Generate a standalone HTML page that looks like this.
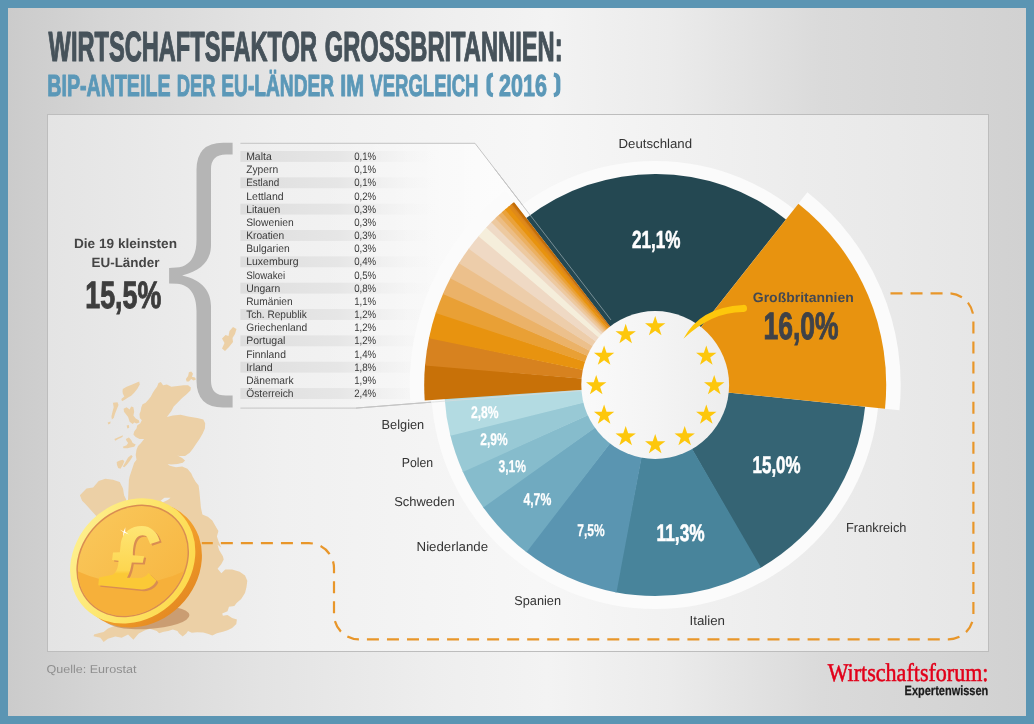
<!DOCTYPE html>
<html><head><meta charset="utf-8"><title>Wirtschaftsfaktor Grossbritannien</title>
<style>
html,body{margin:0;padding:0;background:#5b95b3;}
body{width:1034px;height:724px;overflow:hidden;font-family:"Liberation Sans",sans-serif;}
svg{display:block;will-change:transform} text{text-rendering:geometricPrecision}
</style></head><body>
<svg width="1034" height="724" viewBox="0 0 1034 724">
<defs>
<linearGradient id="bg" x1="0" y1="0" x2="1" y2="0">
<stop offset="0" stop-color="#cbcbcb"/><stop offset="0.1" stop-color="#d6d6d6"/><stop offset="0.25" stop-color="#e3e3e3"/><stop offset="0.42" stop-color="#eeeeee"/><stop offset="0.53" stop-color="#f3f3f3"/><stop offset="0.65" stop-color="#ebebeb"/><stop offset="0.8" stop-color="#dadada"/><stop offset="1" stop-color="#d1d1d1"/>
</linearGradient>
<linearGradient id="panel" x1="0" y1="0" x2="1" y2="0">
<stop offset="0" stop-color="#e4e4e4"/><stop offset="0.25" stop-color="#f0f0f0"/><stop offset="0.52" stop-color="#f7f7f7"/><stop offset="0.8" stop-color="#ececec"/><stop offset="1" stop-color="#e6e6e6"/>
</linearGradient>
<linearGradient id="band" x1="0" y1="0" x2="1" y2="0">
<stop offset="0" stop-color="#dedede"/><stop offset="0.5" stop-color="#e6e6e6"/><stop offset="1" stop-color="#f3f3f3" stop-opacity="0"/>
</linearGradient>
<linearGradient id="hub" x1="0" y1="0" x2="1" y2="0">
<stop offset="0" stop-color="#fafafa"/><stop offset="0.5" stop-color="#f4f4f4"/><stop offset="1" stop-color="#ededed"/>
</linearGradient>
</defs>
<rect width="1034" height="724" fill="#5b95b3"/>
<rect x="8" y="8" width="1018" height="708" fill="url(#bg)"/>
<rect x="47.5" y="114.5" width="941" height="537" fill="url(#panel)" stroke="#bdbdbd" stroke-width="1"/>

<text x="48.6" y="60.9" font-family="Liberation Sans" font-size="42" font-weight="bold" fill="#46525a" text-anchor="start" textLength="268.4" lengthAdjust="spacingAndGlyphs" stroke="#46525a" stroke-width="1.2" stroke-linejoin="round">WIRTSCHAFTSFAKTOR</text>
<text x="324.70000000000005" y="60.9" font-family="Liberation Sans" font-size="42" font-weight="bold" fill="#46525a" text-anchor="start" textLength="237.9" lengthAdjust="spacingAndGlyphs" stroke="#46525a" stroke-width="1.2" stroke-linejoin="round">GROSSBRITANNIEN:</text>
<text x="47.3" y="95.5" font-family="Liberation Sans" font-size="30.5" font-weight="bold" fill="#5b98b8" text-anchor="start" textLength="123.2" lengthAdjust="spacingAndGlyphs" stroke="#5b98b8" stroke-width="1.0" stroke-linejoin="round">BIP-ANTEILE</text>
<text x="176.7" y="95.5" font-family="Liberation Sans" font-size="30.5" font-weight="bold" fill="#5b98b8" text-anchor="start" textLength="38.9" lengthAdjust="spacingAndGlyphs" stroke="#5b98b8" stroke-width="1.0" stroke-linejoin="round">DER</text>
<text x="221.3" y="95.5" font-family="Liberation Sans" font-size="30.5" font-weight="bold" fill="#5b98b8" text-anchor="start" textLength="112.8" lengthAdjust="spacingAndGlyphs" stroke="#5b98b8" stroke-width="1.0" stroke-linejoin="round">EU-LÄNDER</text>
<text x="340.2" y="95.5" font-family="Liberation Sans" font-size="30.5" font-weight="bold" fill="#5b98b8" text-anchor="start" textLength="23.9" lengthAdjust="spacingAndGlyphs" stroke="#5b98b8" stroke-width="1.0" stroke-linejoin="round">IM</text>
<text x="370.3" y="95.5" font-family="Liberation Sans" font-size="30.5" font-weight="bold" fill="#5b98b8" text-anchor="start" textLength="108.2" lengthAdjust="spacingAndGlyphs" stroke="#5b98b8" stroke-width="1.0" stroke-linejoin="round">VERGLEICH</text>
<text x="499.1" y="95.5" font-family="Liberation Sans" font-size="30.5" font-weight="bold" fill="#5b98b8" text-anchor="start" textLength="47.9" lengthAdjust="spacingAndGlyphs" stroke="#5b98b8" stroke-width="1.0" stroke-linejoin="round">2016</text>
<path d="M493,74.6 C489.6,75 488.5,77 488.5,80 V89.8 C488.5,92.8 489.6,94.8 493,95.2" fill="none" stroke="#5b98b8" stroke-width="4.2"/>
<path d="M553.8,74.6 C557.2,75 558.3,77 558.3,80 V89.8 C558.3,92.8 557.2,94.8 553.8,95.2" fill="none" stroke="#5b98b8" stroke-width="4.2"/>
<polygon points="158.5,382.9 160.8,381.9 163.1,385.2 166.9,384.4 171.4,386.7 177.5,386.0 183.6,385.2 188.1,385.2 190.9,387.5 190.4,390.5 186.6,394.3 182.1,398.1 177.5,402.7 173.7,406.5 171.4,411.0 169.1,414.1 166.9,417.1 172.9,415.6 180.5,414.8 188.1,416.4 197.3,417.9 203.3,419.4 205.2,423.2 204.9,428.5 202.6,433.8 199.5,439.1 195.7,444.5 192.7,449.0 189.7,452.8 185.1,455.9 179.0,455.9 176.7,455.1 182.1,458.1 185.1,460.4 182.8,462.7 177.5,463.9 171.4,464.5 166.9,463.9 165.3,462.7 169.9,465.7 176.0,467.3 182.1,466.5 187.4,468.8 191.2,473.3 194.2,480.0 188.0,471.1 192.6,476.4 195.6,481.7 198.6,485.5 199.4,491.6 200.2,500.0 200.9,507.6 202.4,514.4 207.8,516.7 212.3,520.5 215.3,525.8 218.4,531.1 216.9,536.4 218.4,541.0 221.4,547.8 217.6,544.8 219.1,550.1 222.9,556.2 223.7,559.6 221.4,564.1 217.6,568.7 221.4,573.2 225.2,569.4 232.1,569.4 239.7,571.7 245.0,575.5 247.3,580.8 246.5,586.9 245.0,593.0 241.2,599.1 236.6,602.9 234.3,605.9 229.0,606.7 227.5,611.2 222.2,613.5 222.9,615.8 227.5,615.0 232.1,618.1 236.9,619.6 236.3,624.1 232.1,627.9 227.5,630.2 222.9,631.7 216.9,633.3 212.3,635.5 208.5,634.0 203.2,632.5 197.1,632.2 191.8,632.8 188.0,631.0 186.5,633.3 182.7,636.6 178.9,633.3 177.4,631.0 172.8,629.5 168.2,631.0 163.7,631.7 159.1,633.3 156.8,631.0 150.0,628.7 145.1,630.2 138.7,633.4 133.4,639.8 128.1,634.5 121.7,637.7 115.3,636.6 107.9,638.7 103.6,641.9 100.4,637.7 93.6,636.2 94.0,634.5 99.4,633.0 103.6,631.9 107.9,628.5 130,620 128,500 128.9,480.0 129.6,476.4 131.2,471.8 132.7,467.3 134.2,462.7 136.5,459.7 135.7,455.1 136.5,449.8 138.0,446.0 141.0,442.9 144.1,439.1 139.5,439.1 135.7,436.9 133.4,434.6 134.2,431.6 136.5,428.5 137.2,425.5 140.3,423.2 141.8,420.2 139.8,417.9 139.5,414.1 140.7,411.0 141.3,407.2 142.6,404.2 145.6,402.7 148.6,399.6 150.9,396.6 152.4,393.6 154.7,389.8 157.0,386.7" fill="#ecd0a6"/>
<polygon points="122.8,389.0 126.6,386.7 130.4,385.2 135.7,382.9 139.2,381.4 139.8,384.4 137.2,389.0 134.2,392.8 131.2,395.8 128.1,397.4 125.1,399.6 122.0,401.2 121.3,398.9 124.3,396.6 122.8,393.6 122.5,391.3" fill="#ecd0a6"/>
<polygon points="112.9,402.7 117.5,402.2 118.5,405.0 117.0,408.8 115.2,413.3 113.7,417.9 111.9,419.4 111.4,416.4 112.5,411.8 113.7,407.2" fill="#ecd0a6"/>
<polygon points="107.6,422.4 110.6,421.4 110.3,423.5 108.4,424.4" fill="#ecd0a6"/>
<polygon points="123.6,408.8 126.6,407.2 129.6,409.5 131.2,406.5 133.4,407.2 134.2,411.8 133.4,415.6 135.7,418.6 138.8,420.2 139.5,422.4 136.5,423.5 134.2,422.4 132.7,424.0 129.6,421.7 128.1,417.1 125.8,414.1 124.0,411.8" fill="#ecd0a6"/>
<polygon points="126.6,425.5 128.9,425.0 129.2,427.8 127.4,428.5" fill="#ecd0a6"/>
<polygon points="125.8,439.1 128.9,437.6 131.2,439.9 132.7,442.9 135.7,444.5 134.2,446.7 130.4,447.5 127.4,448.3 123.6,448.3 122.8,446.7 126.6,445.2 128.1,442.9 126.6,441.1" fill="#ecd0a6"/>
<polygon points="114.4,439.1 119.0,436.9 122.8,435.3 122.5,436.9 118.2,439.1 115.2,440.7" fill="#ecd0a6"/>
<polygon points="128.1,457.4 131.2,455.1 132.7,456.6 129.6,461.2 126.6,465.0 124.3,467.3 122.8,466.5 125.1,462.7" fill="#ecd0a6"/>
<polygon points="116.7,461.9 119.8,460.4 122.8,459.7 124.3,461.2 122.8,465.0 120.5,468.8 118.2,468.0 117.0,465.0" fill="#ecd0a6"/>
<polygon points="135.3,470.3 138.0,468.8 139.8,471.1 139.2,474.9 137.2,477.1 135.3,475.6" fill="#ecd0a6"/>
<polygon points="185.9,379.1 188.1,376.1 188.9,372.3 191.2,371.5 193.0,373.8 191.9,376.8 195.0,377.6 196.0,379.4 193.5,380.6 191.2,379.1 188.9,381.4 186.6,381.4" fill="#ecd0a6"/>
<polygon points="233,327 236.5,329 235,334 232.5,338 233,342 229,347 225,351 222,348.5 224.5,343 222,338.5 225.5,335 228.5,336 229.5,331" fill="#ecd0a6"/>
<polygon points="79.9,495.2 86.5,488.6 93.1,487.5 98.7,480.9 105.3,478.7 113,479.8 119.7,482 123,488.6 124.1,495.2 126.3,499.7 120,520 100,520 85.4,504.1 82.1,500.8" fill="#ecd0a6"/>
<polygon points="160.6,500.7 164.4,497.7 170.5,497.7 168.2,499.7 165.2,501.2 162.9,502.2" fill="#ebebeb"/>
<path d="M890.5,293.3 H948.4 A25,25 0 0 1 973.4,318.3 V614.4 A25,25 0 0 1 948.4,639.4 H359 A25,25 0 0 1 334,614.4 V568.2 A25,25 0 0 0 309,543.2 H201.8" fill="none" stroke="#e8962a" stroke-width="2.2" stroke-dasharray="12 8.03"/>
<path d="M232.6,142.7 H223 Q196.5,142.7 196.5,170 V240 C196.5,256 190,266.8 176,267.6 L169.1,267.9 V283.4 L177,283.8 C190,284.8 196.5,295 196.5,311 V380.5 Q196.5,407.5 223,407.5 H232.6 V395.6 H226 Q211,395.6 211,381 V306 C211,292 203,280 182.1,275.4 C203,270.6 211,259 211,245 V169 Q211,154.4 226,154.4 H232.6 Z" fill="#b5b5b5"/>
<text x="125.5" y="248.1" font-family="Liberation Sans" font-size="13.4" font-weight="bold" fill="#454545" text-anchor="middle" textLength="103" lengthAdjust="spacingAndGlyphs" >Die 19 kleinsten</text>
<text x="125.5" y="266.7" font-family="Liberation Sans" font-size="13.4" font-weight="bold" fill="#454545" text-anchor="middle" textLength="68" lengthAdjust="spacingAndGlyphs" >EU-Länder</text>
<text x="85.3" y="308.4" font-family="Liberation Sans" font-size="38" font-weight="bold" fill="#3d3d3d" text-anchor="start" textLength="76" lengthAdjust="spacingAndGlyphs" stroke="#3d3d3d" stroke-width="1">15,5%</text>
<defs><linearGradient id="tblhi" gradientUnits="userSpaceOnUse" x1="320" y1="0" x2="490" y2="0"><stop offset="0" stop-color="#ffffff" stop-opacity="0"/><stop offset="1" stop-color="#ffffff" stop-opacity="0.65"/></linearGradient></defs>
<path d="M240.4,143.3 H475 L611,320 L582,390.6 L356,408.1 H240.4 Z" fill="url(#tblhi)"/>
<rect x="240.4" y="151.00" width="195" height="10.9" fill="url(#band)"/>
<text x="246.2" y="160.00" font-family="Liberation Sans" font-size="10.8" font-weight="normal" fill="#3a3a3a" text-anchor="start" textLength="25.5" lengthAdjust="spacingAndGlyphs" >Malta</text>
<text x="354.2" y="160.00" font-family="Liberation Sans" font-size="10.8" font-weight="normal" fill="#3a3a3a" text-anchor="start" textLength="22" lengthAdjust="spacingAndGlyphs" >0,1%</text>
<text x="246.2" y="173.17" font-family="Liberation Sans" font-size="10.8" font-weight="normal" fill="#3a3a3a" text-anchor="start" textLength="32" lengthAdjust="spacingAndGlyphs" >Zypern</text>
<text x="354.2" y="173.17" font-family="Liberation Sans" font-size="10.8" font-weight="normal" fill="#3a3a3a" text-anchor="start" textLength="22" lengthAdjust="spacingAndGlyphs" >0,1%</text>
<rect x="240.4" y="177.34" width="195" height="10.9" fill="url(#band)"/>
<text x="246.2" y="186.34" font-family="Liberation Sans" font-size="10.8" font-weight="normal" fill="#3a3a3a" text-anchor="start" textLength="33" lengthAdjust="spacingAndGlyphs" >Estland</text>
<text x="354.2" y="186.34" font-family="Liberation Sans" font-size="10.8" font-weight="normal" fill="#3a3a3a" text-anchor="start" textLength="22" lengthAdjust="spacingAndGlyphs" >0,1%</text>
<text x="246.2" y="199.51" font-family="Liberation Sans" font-size="10.8" font-weight="normal" fill="#3a3a3a" text-anchor="start" textLength="37.5" lengthAdjust="spacingAndGlyphs" >Lettland</text>
<text x="354.2" y="199.51" font-family="Liberation Sans" font-size="10.8" font-weight="normal" fill="#3a3a3a" text-anchor="start" textLength="22" lengthAdjust="spacingAndGlyphs" >0,2%</text>
<rect x="240.4" y="203.68" width="195" height="10.9" fill="url(#band)"/>
<text x="246.2" y="212.68" font-family="Liberation Sans" font-size="10.8" font-weight="normal" fill="#3a3a3a" text-anchor="start" textLength="34" lengthAdjust="spacingAndGlyphs" >Litauen</text>
<text x="354.2" y="212.68" font-family="Liberation Sans" font-size="10.8" font-weight="normal" fill="#3a3a3a" text-anchor="start" textLength="22" lengthAdjust="spacingAndGlyphs" >0,3%</text>
<text x="246.2" y="225.85" font-family="Liberation Sans" font-size="10.8" font-weight="normal" fill="#3a3a3a" text-anchor="start" textLength="47.5" lengthAdjust="spacingAndGlyphs" >Slowenien</text>
<text x="354.2" y="225.85" font-family="Liberation Sans" font-size="10.8" font-weight="normal" fill="#3a3a3a" text-anchor="start" textLength="22" lengthAdjust="spacingAndGlyphs" >0,3%</text>
<rect x="240.4" y="230.02" width="195" height="10.9" fill="url(#band)"/>
<text x="246.2" y="239.02" font-family="Liberation Sans" font-size="10.8" font-weight="normal" fill="#3a3a3a" text-anchor="start" textLength="38" lengthAdjust="spacingAndGlyphs" >Kroatien</text>
<text x="354.2" y="239.02" font-family="Liberation Sans" font-size="10.8" font-weight="normal" fill="#3a3a3a" text-anchor="start" textLength="22" lengthAdjust="spacingAndGlyphs" >0,3%</text>
<text x="246.2" y="252.19" font-family="Liberation Sans" font-size="10.8" font-weight="normal" fill="#3a3a3a" text-anchor="start" textLength="43.5" lengthAdjust="spacingAndGlyphs" >Bulgarien</text>
<text x="354.2" y="252.19" font-family="Liberation Sans" font-size="10.8" font-weight="normal" fill="#3a3a3a" text-anchor="start" textLength="22" lengthAdjust="spacingAndGlyphs" >0,3%</text>
<rect x="240.4" y="256.36" width="195" height="10.9" fill="url(#band)"/>
<text x="246.2" y="265.36" font-family="Liberation Sans" font-size="10.8" font-weight="normal" fill="#3a3a3a" text-anchor="start" textLength="52.5" lengthAdjust="spacingAndGlyphs" >Luxemburg</text>
<text x="354.2" y="265.36" font-family="Liberation Sans" font-size="10.8" font-weight="normal" fill="#3a3a3a" text-anchor="start" textLength="22" lengthAdjust="spacingAndGlyphs" >0,4%</text>
<text x="246.2" y="278.53" font-family="Liberation Sans" font-size="10.8" font-weight="normal" fill="#3a3a3a" text-anchor="start" textLength="39" lengthAdjust="spacingAndGlyphs" >Slowakei</text>
<text x="354.2" y="278.53" font-family="Liberation Sans" font-size="10.8" font-weight="normal" fill="#3a3a3a" text-anchor="start" textLength="22" lengthAdjust="spacingAndGlyphs" >0,5%</text>
<rect x="240.4" y="282.70" width="195" height="10.9" fill="url(#band)"/>
<text x="246.2" y="291.70" font-family="Liberation Sans" font-size="10.8" font-weight="normal" fill="#3a3a3a" text-anchor="start" textLength="34" lengthAdjust="spacingAndGlyphs" >Ungarn</text>
<text x="354.2" y="291.70" font-family="Liberation Sans" font-size="10.8" font-weight="normal" fill="#3a3a3a" text-anchor="start" textLength="22" lengthAdjust="spacingAndGlyphs" >0,8%</text>
<text x="246.2" y="304.87" font-family="Liberation Sans" font-size="10.8" font-weight="normal" fill="#3a3a3a" text-anchor="start" textLength="46.5" lengthAdjust="spacingAndGlyphs" >Rumänien</text>
<text x="354.2" y="304.87" font-family="Liberation Sans" font-size="10.8" font-weight="normal" fill="#3a3a3a" text-anchor="start" textLength="22" lengthAdjust="spacingAndGlyphs" >1,1%</text>
<rect x="240.4" y="309.04" width="195" height="10.9" fill="url(#band)"/>
<text x="246.2" y="318.04" font-family="Liberation Sans" font-size="10.8" font-weight="normal" fill="#3a3a3a" text-anchor="start" textLength="60.5" lengthAdjust="spacingAndGlyphs" >Tch. Republik</text>
<text x="354.2" y="318.04" font-family="Liberation Sans" font-size="10.8" font-weight="normal" fill="#3a3a3a" text-anchor="start" textLength="22" lengthAdjust="spacingAndGlyphs" >1,2%</text>
<text x="246.2" y="331.21" font-family="Liberation Sans" font-size="10.8" font-weight="normal" fill="#3a3a3a" text-anchor="start" textLength="61" lengthAdjust="spacingAndGlyphs" >Griechenland</text>
<text x="354.2" y="331.21" font-family="Liberation Sans" font-size="10.8" font-weight="normal" fill="#3a3a3a" text-anchor="start" textLength="22" lengthAdjust="spacingAndGlyphs" >1,2%</text>
<rect x="240.4" y="335.38" width="195" height="10.9" fill="url(#band)"/>
<text x="246.2" y="344.38" font-family="Liberation Sans" font-size="10.8" font-weight="normal" fill="#3a3a3a" text-anchor="start" textLength="39.2" lengthAdjust="spacingAndGlyphs" >Portugal</text>
<text x="354.2" y="344.38" font-family="Liberation Sans" font-size="10.8" font-weight="normal" fill="#3a3a3a" text-anchor="start" textLength="22" lengthAdjust="spacingAndGlyphs" >1,2%</text>
<text x="246.2" y="357.55" font-family="Liberation Sans" font-size="10.8" font-weight="normal" fill="#3a3a3a" text-anchor="start" textLength="39.7" lengthAdjust="spacingAndGlyphs" >Finnland</text>
<text x="354.2" y="357.55" font-family="Liberation Sans" font-size="10.8" font-weight="normal" fill="#3a3a3a" text-anchor="start" textLength="22" lengthAdjust="spacingAndGlyphs" >1,4%</text>
<rect x="240.4" y="361.72" width="195" height="10.9" fill="url(#band)"/>
<text x="246.2" y="370.72" font-family="Liberation Sans" font-size="10.8" font-weight="normal" fill="#3a3a3a" text-anchor="start" textLength="26.4" lengthAdjust="spacingAndGlyphs" >Irland</text>
<text x="354.2" y="370.72" font-family="Liberation Sans" font-size="10.8" font-weight="normal" fill="#3a3a3a" text-anchor="start" textLength="22" lengthAdjust="spacingAndGlyphs" >1,8%</text>
<text x="246.2" y="383.89" font-family="Liberation Sans" font-size="10.8" font-weight="normal" fill="#3a3a3a" text-anchor="start" textLength="47.4" lengthAdjust="spacingAndGlyphs" >Dänemark</text>
<text x="354.2" y="383.89" font-family="Liberation Sans" font-size="10.8" font-weight="normal" fill="#3a3a3a" text-anchor="start" textLength="22" lengthAdjust="spacingAndGlyphs" >1,9%</text>
<rect x="240.4" y="388.06" width="195" height="10.9" fill="url(#band)"/>
<text x="246.2" y="397.06" font-family="Liberation Sans" font-size="10.8" font-weight="normal" fill="#3a3a3a" text-anchor="start" textLength="47.4" lengthAdjust="spacingAndGlyphs" >Österreich</text>
<text x="354.2" y="397.06" font-family="Liberation Sans" font-size="10.8" font-weight="normal" fill="#3a3a3a" text-anchor="start" textLength="22" lengthAdjust="spacingAndGlyphs" >2,4%</text>
<path d="M240.4,143.3 H475 L611,320" fill="none" stroke="#c4c4c4" stroke-width="1"/>
<path d="M240.4,408.1 H356 L431,402.2" fill="none" stroke="#c4c4c4" stroke-width="1"/>
<circle cx="655.2" cy="385.0" r="224" fill="#fbfbfb"/>
<path d="M655.20,385.00 L807.36,192.34 A245.5,245.5 0 0 1 899.40,410.24 Z" fill="#fbfbfb" />
<path d="M655.20,385.00 L410.25,401.36 A245.5,245.5 0 0 1 505.21,190.65 Z" fill="#fbfbfb" />
<path d="M655.20,385.00 L526.28,217.96 A211,211 0 0 1 785.97,219.41 Z" fill="#244852" />
<path d="M655.20,385.00 L865.08,406.69 A211,211 0 0 1 760.06,568.10 Z" fill="#356474" />
<path d="M655.20,385.00 L761.02,567.55 A211,211 0 0 1 615.37,592.21 Z" fill="#48849b" />
<path d="M655.20,385.00 L616.46,592.41 A211,211 0 0 1 525.64,551.54 Z" fill="#5a95b1" />
<path d="M655.20,385.00 L526.52,552.22 A211,211 0 0 1 482.78,506.63 Z" fill="#70aac0" />
<path d="M655.20,385.00 L483.42,507.53 A211,211 0 0 1 462.50,470.96 Z" fill="#86bccc" />
<path d="M655.20,385.00 L462.95,471.96 A211,211 0 0 1 450.12,434.61 Z" fill="#98c9d5" />
<path d="M655.20,385.00 L450.38,435.69 A211,211 0 0 1 444.60,397.95 Z" fill="#b3dbe2" />
<path d="M655.20,385.00 L798.37,203.72 A231,231 0 0 1 884.98,408.75 Z" fill="#e8930f" />
<path d="M655.20,385.00 L424.71,400.39 A231,231 0 0 1 425.10,364.59 Z" fill="#c87108" />
<path d="M655.20,385.00 L425.02,365.59 A231,231 0 0 1 429.17,337.33 Z" fill="#d7821f" />
<path d="M655.20,385.00 L428.97,338.31 A231,231 0 0 1 436.00,312.12 Z" fill="#e8930f" />
<path d="M655.20,385.00 L435.68,313.08 A231,231 0 0 1 443.25,293.15 Z" fill="#e9a035" />
<path d="M655.20,385.00 L442.85,294.07 A231,231 0 0 1 450.77,277.44 Z" fill="#ebb268" />
<path d="M655.20,385.00 L450.30,278.34 A231,231 0 0 1 459.45,262.35 Z" fill="#ecc08c" />
<path d="M655.20,385.00 L458.92,263.20 A231,231 0 0 1 469.25,247.95 Z" fill="#edcdaa" />
<path d="M655.20,385.00 L468.65,248.77 A231,231 0 0 1 479.15,235.44 Z" fill="#efd9c4" />
<path d="M655.20,385.00 L478.50,236.21 A231,231 0 0 1 486.89,226.78 Z" fill="#f5eedb" />
<path d="M655.20,385.00 L486.20,227.52 A231,231 0 0 1 491.94,221.57 Z" fill="#efdac6" />
<path d="M655.20,385.00 L491.23,222.29 A231,231 0 0 1 496.10,217.52 Z" fill="#edc9a0" />
<path d="M655.20,385.00 L495.37,218.22 A231,231 0 0 1 499.29,214.55 Z" fill="#ecbd85" />
<path d="M655.20,385.00 L498.55,215.23 A231,231 0 0 1 502.53,211.64 Z" fill="#ebb062" />
<path d="M655.20,385.00 L501.77,212.31 A231,231 0 0 1 505.82,208.80 Z" fill="#eaa23a" />
<path d="M655.20,385.00 L505.05,209.45 A231,231 0 0 1 509.17,206.01 Z" fill="#e8930f" />
<path d="M655.20,385.00 L508.39,206.65 A231,231 0 0 1 511.43,204.19 Z" fill="#e08a17" />
<path d="M655.20,385.00 L510.64,204.82 A231,231 0 0 1 512.57,203.29 Z" fill="#d7821f" />
<path d="M655.20,385.00 L511.78,203.92 A231,231 0 0 1 513.71,202.40 Z" fill="#c87108" />
<path d="M655.20,385.00 L512.92,203.02 A231,231 0 0 1 514.06,202.13 Z" fill="#c06a06" />
<path d="M495,169.3 L529.7,214.5" fill="none" stroke="#c4c4c4" stroke-width="1"/>
<path d="M529.7,214.5 L611,320" fill="none" stroke="#8da0a6" stroke-width="0.8"/>
<path d="M356,408.1 L431,402.2" fill="none" stroke="#c4c4c4" stroke-width="1"/>
<path d="M431,402.2 L582,390.6" fill="none" stroke="#d9dcdc" stroke-width="0.9" opacity="0.85"/>
<circle cx="655.2" cy="385.0" r="73.9" fill="url(#hub)"/>
<polygon points="655.20,315.90 657.64,323.24 665.38,323.29 659.15,327.88 661.49,335.26 655.20,330.75 648.91,335.26 651.25,327.88 645.02,323.29 652.76,323.24" fill="#fdc70c"/>
<polygon points="706.30,345.40 708.73,352.74 716.47,352.79 710.24,357.38 712.58,364.76 706.30,360.25 700.01,364.76 702.35,357.38 696.12,352.79 703.86,352.74" fill="#fdc70c"/>
<polygon points="714.20,374.90 716.64,382.24 724.38,382.29 718.15,386.88 720.49,394.26 714.20,389.75 707.91,394.26 710.25,386.88 704.02,382.29 711.76,382.24" fill="#fdc70c"/>
<polygon points="706.30,404.40 708.73,411.74 716.47,411.79 710.24,416.38 712.58,423.76 706.30,419.25 700.01,423.76 702.35,416.38 696.12,411.79 703.86,411.74" fill="#fdc70c"/>
<polygon points="684.70,426.00 687.14,433.34 694.88,433.39 688.65,437.98 690.99,445.35 684.70,440.85 678.41,445.35 680.75,437.98 674.52,433.39 682.26,433.34" fill="#fdc70c"/>
<polygon points="655.20,433.90 657.64,441.24 665.38,441.29 659.15,445.88 661.49,453.26 655.20,448.75 648.91,453.26 651.25,445.88 645.02,441.29 652.76,441.24" fill="#fdc70c"/>
<polygon points="625.70,426.00 628.14,433.34 635.88,433.39 629.65,437.98 631.99,445.35 625.70,440.85 619.41,445.35 621.75,437.98 615.52,433.39 623.26,433.34" fill="#fdc70c"/>
<polygon points="604.10,404.40 606.54,411.74 614.28,411.79 608.05,416.38 610.39,423.76 604.10,419.25 597.82,423.76 600.16,416.38 593.93,411.79 601.67,411.74" fill="#fdc70c"/>
<polygon points="596.20,374.90 598.64,382.24 606.38,382.29 600.15,386.88 602.49,394.26 596.20,389.75 589.91,394.26 592.25,386.88 586.02,382.29 593.76,382.24" fill="#fdc70c"/>
<polygon points="604.10,345.40 606.54,352.74 614.28,352.79 608.05,357.38 610.39,364.76 604.10,360.25 597.82,364.76 600.16,357.38 593.93,352.79 601.67,352.74" fill="#fdc70c"/>
<polygon points="625.70,323.80 628.14,331.15 635.88,331.20 629.65,335.79 631.99,343.16 625.70,338.65 619.41,343.16 621.75,335.79 615.52,331.20 623.26,331.15" fill="#fdc70c"/>
<path d="M683.4,338.8 Q699.5,307.3 743,304.9 A3.6,3.6 0 0 1 743.8,312.1 Q712.5,311.5 683.4,338.8 Z" fill="#fdc70c"/>
<text x="632" y="247.6" font-family="Liberation Sans" font-size="24.7" font-weight="bold" fill="#ffffff" text-anchor="start" textLength="48.5" lengthAdjust="spacingAndGlyphs" stroke="#ffffff" stroke-width="0.6">21,1%</text>
<text x="752.6" y="472.8" font-family="Liberation Sans" font-size="24" font-weight="bold" fill="#ffffff" text-anchor="start" textLength="48" lengthAdjust="spacingAndGlyphs" stroke="#ffffff" stroke-width="0.6">15,0%</text>
<text x="656.6" y="540.8" font-family="Liberation Sans" font-size="24" font-weight="bold" fill="#ffffff" text-anchor="start" textLength="48" lengthAdjust="spacingAndGlyphs" stroke="#ffffff" stroke-width="0.6">11,3%</text>
<text x="577.2" y="536.0" font-family="Liberation Sans" font-size="17" font-weight="bold" fill="#ffffff" text-anchor="start" textLength="27.4" lengthAdjust="spacingAndGlyphs" stroke="#ffffff" stroke-width="0.25">7,5%</text>
<text x="523.4000000000001" y="505.3" font-family="Liberation Sans" font-size="17" font-weight="bold" fill="#ffffff" text-anchor="start" textLength="27.9" lengthAdjust="spacingAndGlyphs" stroke="#ffffff" stroke-width="0.25">4,7%</text>
<text x="498.5" y="471.8" font-family="Liberation Sans" font-size="17" font-weight="bold" fill="#ffffff" text-anchor="start" textLength="27.599999999999998" lengthAdjust="spacingAndGlyphs" stroke="#ffffff" stroke-width="0.25">3,1%</text>
<text x="480.2" y="444.8" font-family="Liberation Sans" font-size="17" font-weight="bold" fill="#ffffff" text-anchor="start" textLength="27.4" lengthAdjust="spacingAndGlyphs" stroke="#ffffff" stroke-width="0.25">2,9%</text>
<text x="470.9" y="417.90000000000003" font-family="Liberation Sans" font-size="17" font-weight="bold" fill="#ffffff" text-anchor="start" textLength="27.7" lengthAdjust="spacingAndGlyphs" stroke="#ffffff" stroke-width="0.25">2,8%</text>
<text x="752.8" y="302.2" font-family="Liberation Sans" font-size="13.6" font-weight="bold" fill="#444850" text-anchor="start" textLength="101" lengthAdjust="spacingAndGlyphs" >Großbritannien</text>
<text x="763.6" y="339.4" font-family="Liberation Sans" font-size="38" font-weight="bold" fill="#3f4248" text-anchor="start" textLength="75" lengthAdjust="spacingAndGlyphs" stroke="#3f4248" stroke-width="1.0">16,0%</text>
<text x="618.5" y="147.5" font-family="Liberation Sans" font-size="13" font-weight="normal" fill="#333333" text-anchor="start" textLength="73.5" lengthAdjust="spacingAndGlyphs" >Deutschland</text>
<text x="846" y="532" font-family="Liberation Sans" font-size="13" font-weight="normal" fill="#333333" text-anchor="start" textLength="60.5" lengthAdjust="spacingAndGlyphs" >Frankreich</text>
<text x="689.5" y="624.5" font-family="Liberation Sans" font-size="13" font-weight="normal" fill="#333333" text-anchor="start" textLength="35.5" lengthAdjust="spacingAndGlyphs" >Italien</text>
<text x="514.3" y="604.5" font-family="Liberation Sans" font-size="13" font-weight="normal" fill="#333333" text-anchor="start" textLength="46.7" lengthAdjust="spacingAndGlyphs" >Spanien</text>
<text x="416.6" y="551.3" font-family="Liberation Sans" font-size="13" font-weight="normal" fill="#333333" text-anchor="start" textLength="71.5" lengthAdjust="spacingAndGlyphs" >Niederlande</text>
<text x="394.2" y="505.7" font-family="Liberation Sans" font-size="13" font-weight="normal" fill="#333333" text-anchor="start" textLength="60.4" lengthAdjust="spacingAndGlyphs" >Schweden</text>
<text x="401.7" y="466.8" font-family="Liberation Sans" font-size="13" font-weight="normal" fill="#333333" text-anchor="start" textLength="31.4" lengthAdjust="spacingAndGlyphs" >Polen</text>
<text x="381.6" y="428.6" font-family="Liberation Sans" font-size="13" font-weight="normal" fill="#333333" text-anchor="start" textLength="42.6" lengthAdjust="spacingAndGlyphs" >Belgien</text>
<text x="46.5" y="673" font-family="Liberation Sans" font-size="11.4" font-weight="normal" fill="#8f8f8f" text-anchor="start" textLength="90" lengthAdjust="spacingAndGlyphs" >Quelle: Eurostat</text>
<text x="988.5" y="681.3" font-family="Liberation Serif" font-size="25.6" font-weight="normal" fill="#e2001a" text-anchor="end" textLength="160.8" lengthAdjust="spacingAndGlyphs" stroke="#e2001a" stroke-width="0.55">Wirtschaftsforum:</text>
<text x="988.3" y="695.3" font-family="Liberation Sans" font-size="13.4" font-weight="bold" fill="#1a1a1a" text-anchor="end" textLength="83.7" lengthAdjust="spacingAndGlyphs" stroke="#1a1a1a" stroke-width="0.25">Expertenwissen</text>
<defs><linearGradient id="cside" x1="0" y1="0" x2="0" y2="1"><stop offset="0" stop-color="#f6ae35"/><stop offset="0.55" stop-color="#f2a02c"/><stop offset="1" stop-color="#e58a22"/></linearGradient><linearGradient id="crim" x1="0.2" y1="0" x2="0.7" y2="1"><stop offset="0" stop-color="#fef090"/><stop offset="0.5" stop-color="#fde56c"/><stop offset="1" stop-color="#fdd94c"/></linearGradient><linearGradient id="cface" x1="0" y1="0" x2="0" y2="1"><stop offset="0" stop-color="#f9c557"/><stop offset="1" stop-color="#f7b743"/></linearGradient><clipPath id="cclip"><ellipse cx="132.7" cy="560.9" rx="59.2" ry="50.1" transform="rotate(-45 132.7 560.9)"/></clipPath></defs>
<ellipse cx="147" cy="617.3" rx="42.5" ry="11.8" fill="#b47c50" opacity="0.6" transform="rotate(-3 147 617.3)"/>
<ellipse cx="139.29999999999998" cy="564.9" rx="67.2" ry="57.7" transform="rotate(-45 139.29999999999998 564.9)" fill="url(#cside)"/>
<ellipse cx="132.7" cy="560.9" rx="67.2" ry="57.7" transform="rotate(-45 132.7 560.9)" fill="url(#crim)"/>
<ellipse cx="132.7" cy="560.9" rx="60.7" ry="51.6" transform="rotate(-45 132.7 560.9)" fill="#d98d52"/>
<ellipse cx="132.7" cy="560.9" rx="59.2" ry="50.1" transform="rotate(-45 132.7 560.9)" fill="url(#cface)"/>
<path d="M60,562 Q133,606 205,560 V640 H60 Z" fill="#f6b03a" clip-path="url(#cclip)"/>
<path d="M159.61,540.99 C157.40,532.15 150.77,526.08 141.93,526.08 C130.88,526.08 123.15,532.15 120.94,542.10 L119.83,552.27 L112.98,552.60 L112.10,560.00 L118.51,560.66 C118.18,567.51 116.52,571.93 112.65,574.70 L99.06,577.46 L98.29,585.19 L141.93,589.61 C149.67,589.06 154.64,585.19 156.30,580.55 L148.56,573.04 C146.35,576.35 143.04,578.01 138.62,578.01 L127.02,577.68 C129.78,573.04 131.10,567.51 131.77,562.54 L142.82,562.87 L144.14,556.24 L132.87,555.14 C132.87,548.73 133.65,542.10 136.41,538.23 C138.62,534.92 145.25,533.81 147.46,537.68 L150.22,544.09 Z" fill="#d98d52" transform="translate(2.0,1.6)"/>
<defs><linearGradient id="cpound" x1="0" y1="0" x2="0" y2="1"><stop offset="0" stop-color="#fee574"/><stop offset="0.7" stop-color="#fdd650"/><stop offset="0.75" stop-color="#fbc936"/><stop offset="1" stop-color="#fbc936"/></linearGradient></defs>
<path d="M159.61,540.99 C157.40,532.15 150.77,526.08 141.93,526.08 C130.88,526.08 123.15,532.15 120.94,542.10 L119.83,552.27 L112.98,552.60 L112.10,560.00 L118.51,560.66 C118.18,567.51 116.52,571.93 112.65,574.70 L99.06,577.46 L98.29,585.19 L141.93,589.61 C149.67,589.06 154.64,585.19 156.30,580.55 L148.56,573.04 C146.35,576.35 143.04,578.01 138.62,578.01 L127.02,577.68 C129.78,573.04 131.10,567.51 131.77,562.54 L142.82,562.87 L144.14,556.24 L132.87,555.14 C132.87,548.73 133.65,542.10 136.41,538.23 C138.62,534.92 145.25,533.81 147.46,537.68 L150.22,544.09 Z" fill="url(#cpound)"/>
<path d="M119.8,529.5 L123.7,531.4 L125.3,527.2 L125.2,531.8 L128.8,534.5 L124.7,532.8 L123.1,536.5 L123.39999999999999,532.3 Z" fill="#ffffff"/>
</svg></body></html>
